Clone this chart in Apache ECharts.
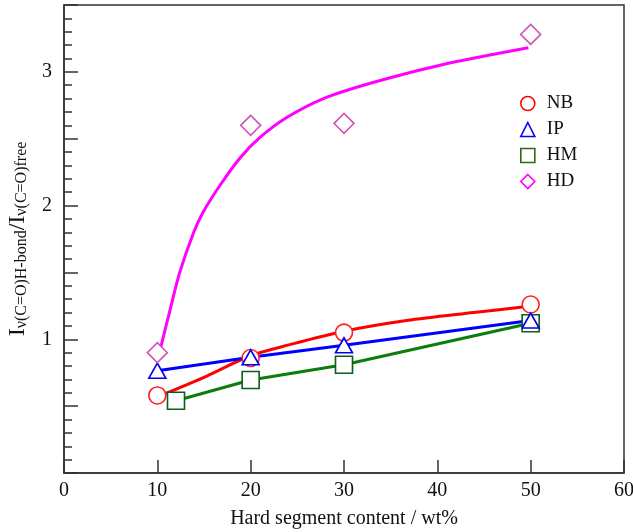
<!DOCTYPE html>
<html>
<head>
<meta charset="utf-8">
<script src="https://cdn.jsdelivr.net/npm/echarts@6/dist/echarts.min.js"></script>
<style>html,body{margin:0;padding:0;background:#fff}#c{width:633px;height:532px}</style>
</head>
<body>
<div id="c"></div>
<script>
// Measured points (x = hard segment content wt%, y = intensity ratio)
const nbPoints = [[10, 0.58], [20, 0.86], [30, 1.05], [50, 1.26]];
const ipPoints = [[10, 0.765], [20, 0.865], [30, 0.955], [50, 1.14]];
const hmPoints = [[12, 0.54], [20, 0.695], [30, 0.81], [50, 1.12]];
const hdPoints = [[10, 0.90], [20, 2.60], [30, 2.615], [50, 3.28]];
// Fitted curves
const nbCurve = [[10.9, 0.595], [15.3, 0.725], [19.9, 0.875], [24.2, 0.96], [30, 1.06], [36.7, 1.14], [43.9, 1.20], [49.6, 1.245]];
const hdCurve = [[10.3, 0.92], [11.4, 1.23], [12.4, 1.50], [13.9, 1.80], [14.9, 1.95], [16.7, 2.15], [18.9, 2.36], [21.0, 2.51], [23.9, 2.66], [27.8, 2.80], [33.1, 2.92], [40.3, 3.05], [49.75, 3.18]];
const seriesNames = ['NB', 'IP', 'HM', 'HD'];
const xTicks = [0, 10, 20, 30, 40, 50, 60];
const yTickLabels = [1, 2, 3];

const FONT = '"Liberation Serif","Times New Roman",serif';
const chart = echarts.init(document.getElementById('c'), null, {renderer: 'canvas'});

function scatterSeries(name, data, symbol, size, color) {
  return {
    name: name, type: 'scatter', data: data, symbol: symbol, symbolSize: size, z: 5,
    itemStyle: {color: '#fff', borderColor: color, borderWidth: 1.6, opacity: 1},
    emphasis: {disabled: true}
  };
}
function lineSeries(name, data, color, smooth) {
  return {
    name: name, type: 'line', data: data, smooth: smooth, symbol: 'none', z: 3,
    lineStyle: {color: color, width: 3}, emphasis: {disabled: true}
  };
}

chart.setOption({
  animation: false,
  grid: {left: 64, right: 9, top: 5, bottom: 59, containLabel: false, outerBoundsMode: 'none',
    show: true, borderColor: '#333', borderWidth: 1.5, backgroundColor: 'transparent'},
  xAxis: {
    type: 'value', min: xTicks[0], max: xTicks[xTicks.length - 1], interval: 10,
    name: 'Hard segment content / wt%', nameLocation: 'middle', nameGap: 36,
    nameTextStyle: {fontFamily: FONT, fontSize: 20, color: '#111'},
    axisLine: {lineStyle: {color: '#333', width: 1.5}},
    axisTick: {inside: true, length: 13, lineStyle: {color: '#333', width: 1.5}},
    axisLabel: {fontFamily: FONT, fontSize: 20, color: '#111', margin: 8,
      formatter: v => xTicks.indexOf(v) >= 0 ? String(v) : ''},
    splitLine: {show: false}
  },
  yAxis: {
    type: 'value', min: 0, max: 3.5, interval: 0.5,
    name: '{m|I}{s|ν(C=O)H-bond}{m|/I}{s|ν(C=O)free}', nameLocation: 'middle', nameGap: 34, nameRotate: 90,
    nameTextStyle: {fontFamily: FONT, color: '#111',
      rich: {
        m: {fontFamily: FONT, fontSize: 24, lineHeight: 24, verticalAlign: 'top', color: '#111'},
        s: {fontFamily: FONT, fontSize: 16, lineHeight: 16, verticalAlign: 'bottom', padding: [12, 0, 0, 0], color: '#111'}
      }},
    axisLine: {lineStyle: {color: '#333', width: 1.5}},
    axisTick: {inside: true, length: 14, lineStyle: {color: '#333', width: 1.5}},
    minorTick: {show: true, splitNumber: 5, length: 8, lineStyle: {color: '#333', width: 1.5}},
    axisLabel: {fontFamily: FONT, fontSize: 20, color: '#111', margin: 12,
      formatter: v => yTickLabels.indexOf(v) >= 0 ? String(v) : ''},
    splitLine: {show: false}, minorSplitLine: {show: false}
  },
  legend: {
    orient: 'vertical', left: 515, top: 89, itemWidth: 14, itemHeight: 14, itemGap: 7,
    textStyle: {fontFamily: FONT, fontSize: 19, color: '#111', padding: [0, 0, 0, 7]},
    data: [
      {name: seriesNames[0], icon: 'circle', itemStyle: {color: '#fff', borderColor: '#ff0000', borderWidth: 1.6}},
      {name: seriesNames[1], icon: 'triangle', itemStyle: {color: '#fff', borderColor: '#0000ff', borderWidth: 1.6}},
      {name: seriesNames[2], icon: 'rect', itemStyle: {color: '#fff', borderColor: '#2d6a14', borderWidth: 1.6}},
      {name: seriesNames[3], icon: 'diamond', itemStyle: {color: '#fff', borderColor: '#ff00ff', borderWidth: 1.6}}
    ],
    selectedMode: false
  },
  series: [
    lineSeries('NB fit', nbCurve, '#ff0000', 0.3),
    lineSeries('IP line', ipPoints, '#0000ff', false),
    lineSeries('HM line', hmPoints, '#0a7d0a', false),
    lineSeries('HD fit', hdCurve, '#ff00ff', 0.3),
    scatterSeries(seriesNames[0], nbPoints, 'circle', 17, '#ff2020'),
    scatterSeries(seriesNames[2], hmPoints, 'rect', 17, '#0b5e1a'),
    scatterSeries(seriesNames[1], ipPoints, 'triangle', [17, 15], '#0000ee'),
    scatterSeries(seriesNames[3], hdPoints, 'diamond', 20, '#d054b8')
  ]
});
</script>
</body>
</html>
